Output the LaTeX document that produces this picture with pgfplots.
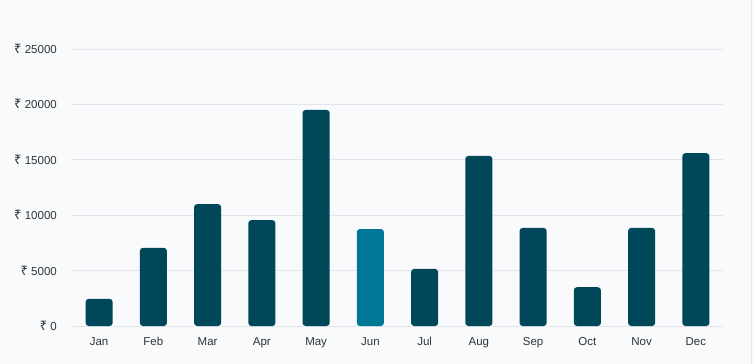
\documentclass[border=0pt]{standalone}
\usepackage{pgfplots}
\pgfplotsset{compat=1.18}
\usepackage{fontspec}
\setmainfont{Liberation Sans}
\newfontfamily\rupfont{Noto Sans}
\definecolor{bg}{HTML}{F8FAFC}
\definecolor{gridc}{HTML}{E2E6EB}
\definecolor{edgec}{HTML}{E6E9EE}
\definecolor{bardark}{HTML}{00475A}
\definecolor{barhi}{HTML}{007797}
\definecolor{lab}{HTML}{2F3436}
\begin{document}
\begin{tikzpicture}
\useasboundingbox (0,0) rectangle (755bp,364bp);
\fill[bg] (0,0) rectangle (755bp,364bp);
\draw[edgec, line width=1bp] (751.5bp,0) -- (751.5bp,364bp);
\begin{axis}[
  at={(72bp,38bp)}, anchor=south west,
  scale only axis, width=651bp, height=277bp,
  xmin=-0.5, xmax=11.5, ymin=0, ymax=25000,
  clip=false,
  axis line style={draw=none},
  tick style={draw=none},
  ymajorgrids, grid style={gridc, line width=0.8bp},
  ytick={0,5000,10000,15000,20000,25000},
  scaled y ticks=false,
  yticklabel={{\rupfont\fontsize{13bp}{13bp}\selectfont ₹} \pgfmathprintnumber[fixed,1000 sep={}]{\tick}},
  yticklabel style={anchor=east, inner sep=0pt, xshift=-15bp, font=\fontsize{11.5bp}{13bp}\selectfont, text=lab},
  xtick={0,...,11},
  xticklabels={Jan,Feb,Mar,Apr,May,Jun,Jul,Aug,Sep,Oct,Nov,Dec},
  xticklabel style={anchor=north, inner sep=0pt, text height=9bp, text depth=2.5bp, yshift=-10bp, font=\fontsize{11.5bp}{13bp}\selectfont, text=lab},
  /pgf/number format/assume math mode=true,
]
\addplot[ybar, bar width=27bp, bar shift=0pt, fill=bardark, draw=none, rounded corners=3bp]
  coordinates {(0,2450) (1,7050) (2,11000) (3,9550) (4,19500) (6,5150) (7,15350) (8,8850) (9,3500) (10,8850) (11,15600)};
\addplot[ybar, bar width=27bp, bar shift=0pt, fill=barhi, draw=none, rounded corners=3bp]
  coordinates {(5,8750)};
\end{axis}
\end{tikzpicture}
\end{document}
